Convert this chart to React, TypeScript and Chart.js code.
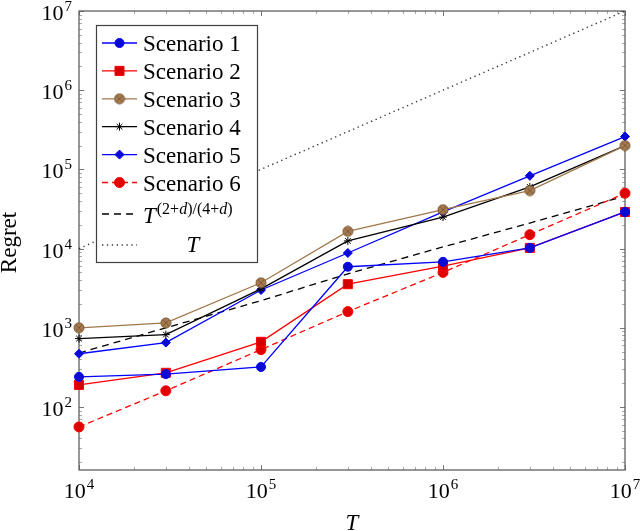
import React, { useEffect, useRef } from 'react';
import { Chart, ChartConfiguration, registerables } from 'chart.js';
import { drawPoint } from 'chart.js/helpers';

Chart.register(...registerables);

// horizon T (x axis) and regret for each scenario
const horizons = [1e4, 3e4, 1e5, 3e5, 1e6, 3e6, 1e7];
const scenario1 = [240, 260, 320, 5900, 6800, 10200, 29000];
const scenario2 = [190, 270, 665, 3550, 6000, 10200, 29000];
const scenario3 = [1000, 1150, 3700, 16500, 31000, 54000, 200000];
const scenario4 = [730, 820, 3100, 12500, 25000, 60000, 200000];
const scenario5 = [470, 650, 3000, 8800, 29000, 83000, 260000];
const scenario6 = [56, 160, 530, 1600, 5000, 15000, 50000];
const rateBound = [480, 1000, 2200, 4800, 10500, 21000, 46000];
const linearBound = [1e4, 3e4, 1e5, 3e5, 1e6, 3e6, 1e7];

const xTickExponents = ['4', '5', '6', '7'];
const yTickExponents = ['2', '3', '4', '5', '6', '7'];
const scenarioLabels = ['Scenario 1', 'Scenario 2', 'Scenario 3', 'Scenario 4', 'Scenario 5', 'Scenario 6'];

const X_MIN = 1e4;
const X_MAX = 1e7;
const Y_MIN = 16;
const Y_MAX = 1e7;

const SERIF = '"Liberation Serif", "Times New Roman", serif';

interface SeriesStyle {
  color: string;
  fill: string;
  pointStyle: any;
  radius: number;
  dash: number[];
}

const makeOtimes = () => {
  const c = document.createElement('canvas');
  c.width = 12;
  c.height = 12;
  const g = c.getContext('2d')!;
  g.beginPath();
  g.arc(6, 6, 5, 0, Math.PI * 2);
  g.fillStyle = '#a47a50';
  g.fill();
  g.strokeStyle = '#7d5a36';
  g.lineWidth = 1;
  g.stroke();
  g.beginPath();
  g.moveTo(2.6, 2.6);
  g.lineTo(9.4, 9.4);
  g.moveTo(9.4, 2.6);
  g.lineTo(2.6, 9.4);
  g.stroke();
  return c;
};

const drawPower = (ctx: CanvasRenderingContext2D, exp: string, x: number, y: number, align: 'right' | 'center') => {
  const base = `22px ${SERIF}`;
  const sup = `15px ${SERIF}`;
  ctx.font = base;
  const bw = ctx.measureText('10').width;
  ctx.font = sup;
  const ew = ctx.measureText(exp).width;
  const total = bw + ew + 1;
  const left = align === 'right' ? x - total : x - total / 2;
  ctx.textAlign = 'left';
  ctx.textBaseline = 'alphabetic';
  ctx.font = base;
  ctx.fillText('10', left, y);
  ctx.font = sup;
  ctx.fillText(exp, left + bw + 1, y - 9);
};

const axesPlugin = {
  id: 'pgfAxes',
  beforeDatasetsDraw(chart: any) {
    const { ctx, chartArea: a, scales } = chart;
    const xs = scales.x;
    const ys = scales.y;
    ctx.save();
    // tick marks inside the frame
    ctx.lineWidth = 1;
    for (let k = 4; k <= 7; k++) {
      for (let m = 1; m <= 9; m++) {
        const v = m * Math.pow(10, k);
        if (v < X_MIN || v > X_MAX) continue;
        const px = Math.round(xs.getPixelForValue(v)) + 0.5;
        const len = m === 1 ? 5 : 3;
        ctx.strokeStyle = m === 1 ? '#777' : '#aaa';
        ctx.beginPath();
        ctx.moveTo(px, a.bottom);
        ctx.lineTo(px, a.bottom - len);
        ctx.moveTo(px, a.top);
        ctx.lineTo(px, a.top + len);
        ctx.stroke();
      }
    }
    for (let k = 1; k <= 7; k++) {
      for (let m = 1; m <= 9; m++) {
        const v = m * Math.pow(10, k);
        if (v < Y_MIN || v > Y_MAX) continue;
        const py = Math.round(ys.getPixelForValue(v)) + 0.5;
        const len = m === 1 ? 5 : 3;
        ctx.strokeStyle = m === 1 ? '#777' : '#aaa';
        ctx.beginPath();
        ctx.moveTo(a.left, py);
        ctx.lineTo(a.left + len, py);
        ctx.moveTo(a.right, py);
        ctx.lineTo(a.right - len, py);
        ctx.stroke();
      }
    }
    // frame
    ctx.strokeStyle = '#606060';
    ctx.lineWidth = 1.3;
    ctx.strokeRect(a.left, a.top, a.right - a.left, a.bottom - a.top);

    // tick labels
    ctx.fillStyle = '#000';
    xTickExponents.forEach(e => {
      const px = xs.getPixelForValue(Math.pow(10, Number(e)));
      drawPower(ctx, e, px, 498, 'center');
    });
    yTickExponents.forEach(e => {
      const py = ys.getPixelForValue(Math.pow(10, Number(e)));
      drawPower(ctx, e, a.left - 7, py + 9, 'right');
    });

    // axis titles
    ctx.font = `italic 23px ${SERIF}`;
    ctx.textAlign = 'center';
    ctx.textBaseline = 'alphabetic';
    ctx.fillText('T', (a.left + a.right) / 2, 530);
    ctx.save();
    ctx.translate(16, (a.top + a.bottom) / 2 + 2);
    ctx.rotate(-Math.PI / 2);
    ctx.font = `23px ${SERIF}`;
    ctx.fillText('Regret', 0, 0);
    ctx.restore();
    ctx.restore();
  },
  afterDatasetsDraw(chart: any) {
    const { ctx } = chart;
    const styles: SeriesStyle[] = chart.options.plugins.pgfAxes.styles;
    ctx.save();
    // legend box
    ctx.fillStyle = '#fff';
    ctx.fillRect(96, 25, 162, 238);
    ctx.strokeStyle = '#404040';
    ctx.lineWidth = 1.2;
    ctx.strokeRect(96.5, 25.5, 161, 237);

    const drawSample = (st: SeriesStyle, y: number, marker: boolean) => {
      ctx.strokeStyle = st.color;
      ctx.lineWidth = 1.3;
      ctx.setLineDash(st.dash);
      ctx.beginPath();
      ctx.moveTo(102, y);
      ctx.lineTo(137, y);
      ctx.stroke();
      ctx.setLineDash([]);
      if (marker) {
        ctx.fillStyle = st.fill;
        ctx.strokeStyle = st.color;
        ctx.lineWidth = 1;
        drawPoint(ctx, { pointStyle: st.pointStyle, radius: st.radius, borderWidth: 1, rotation: 0 }, 119.5, y);
      }
    };

    scenarioLabels.forEach((label, i) => {
      const baseline = 51 + i * 27.9;
      drawSample(styles[i], baseline - 8, true);
      ctx.fillStyle = '#000';
      ctx.font = `23px ${SERIF}`;
      ctx.textAlign = 'left';
      ctx.textBaseline = 'alphabetic';
      ctx.fillText(label, 143, baseline);
    });

    // T^{(2+d)/(4+d)}
    drawSample(styles[6], 214, false);
    ctx.fillStyle = '#000';
    ctx.textAlign = 'left';
    ctx.font = `italic 23px ${SERIF}`;
    ctx.fillText('T', 143, 223);
    let cx = 143 + ctx.measureText('T').width + 1;
    const parts: [string, boolean][] = [['(2+', false], ['d', true], [')/(4+', false], ['d', true], [')', false]];
    parts.forEach(([s, it]) => {
      ctx.font = `${it ? 'italic ' : ''}16px ${SERIF}`;
      ctx.fillText(s, cx, 214);
      cx += ctx.measureText(s).width;
    });

    // T
    drawSample(styles[7], 245, false);
    ctx.fillStyle = '#000';
    ctx.font = `italic 23px ${SERIF}`;
    ctx.textAlign = 'center';
    ctx.fillText('T', 193, 252);
    ctx.restore();
  }
};

const App: React.FC = () => {
  const chartRef = useRef<HTMLCanvasElement>(null);
  const chartInstanceRef = useRef<Chart | null>(null);

  useEffect(() => {
    if (!chartRef.current) return;
    const ctx = chartRef.current.getContext('2d');
    if (!ctx) return;

    const otimes = makeOtimes();
    const styles: SeriesStyle[] = [
      { color: '#0000ff', fill: '#0a0ad0', pointStyle: 'circle', radius: 4.5, dash: [] },
      { color: '#ff0000', fill: '#d40000', pointStyle: 'rect', radius: 6.4, dash: [] },
      { color: '#a0784c', fill: '#a47a50', pointStyle: otimes, radius: 5, dash: [] },
      { color: '#000000', fill: '#000000', pointStyle: 'star', radius: 4, dash: [] },
      { color: '#0000ff', fill: '#0a0ad0', pointStyle: 'rectRot', radius: 4.5, dash: [] },
      { color: '#ff0000', fill: '#e00000', pointStyle: 'circle', radius: 5, dash: [6, 4] },
      { color: '#000000', fill: '#000000', pointStyle: 'circle', radius: 0, dash: [7, 5] },
      { color: '#333333', fill: '#333333', pointStyle: 'circle', radius: 0, dash: [1.3, 3.6] }
    ];
    const allSeries = [scenario1, scenario2, scenario3, scenario4, scenario5, scenario6, rateBound, linearBound];
    const labels = [...scenarioLabels, 'T^(2+d)/(4+d)', 'T'];

    const datasets = allSeries.map((values, i) => ({
      label: labels[i],
      data: horizons.map((x, j) => ({ x, y: values[j] })),
      borderColor: styles[i].color,
      backgroundColor: styles[i].fill,
      pointBorderColor: styles[i].color,
      pointBackgroundColor: styles[i].fill,
      pointStyle: styles[i].pointStyle,
      pointRadius: styles[i].radius,
      pointBorderWidth: 1,
      borderWidth: i === 7 ? 1.4 : 1.3,
      borderDash: styles[i].dash,
      tension: 0,
      fill: false,
      clip: false as any
    }));
    // draw the reference lines underneath, scenario 1 on top
    const order = [5, 4, 3, 2, 1, 0, 6, 7];
    datasets.forEach((d: any, i) => { d.order = order.indexOf(i) >= 0 ? i : 0; });
    datasets[6] = { ...datasets[6], order: 10 } as any;
    datasets[7] = { ...datasets[7], order: 11 } as any;

    const config: ChartConfiguration = {
      type: 'line',
      data: { datasets: datasets as any },
      options: {
        responsive: false,
        animation: false,
        layout: { padding: { left: 79, right: 15, top: 11, bottom: 61 } },
        scales: {
          x: { type: 'logarithmic', min: X_MIN, max: X_MAX, display: false },
          y: { type: 'logarithmic', min: Y_MIN, max: Y_MAX, display: false }
        },
        plugins: {
          legend: { display: false },
          tooltip: { enabled: false },
          pgfAxes: { styles }
        } as any
      },
      plugins: [axesPlugin]
    };

    chartInstanceRef.current = new Chart(ctx, config);

    return () => {
      if (chartInstanceRef.current) {
        chartInstanceRef.current.destroy();
        chartInstanceRef.current = null;
      }
    };
  }, []);

  return (
    <div style={{ position: 'fixed', left: 0, top: 0, width: 640, height: 531, background: '#fff' }}>
      <canvas ref={chartRef} width={640} height={531} style={{ width: 640, height: 531 }} />
    </div>
  );
};

export default App;
